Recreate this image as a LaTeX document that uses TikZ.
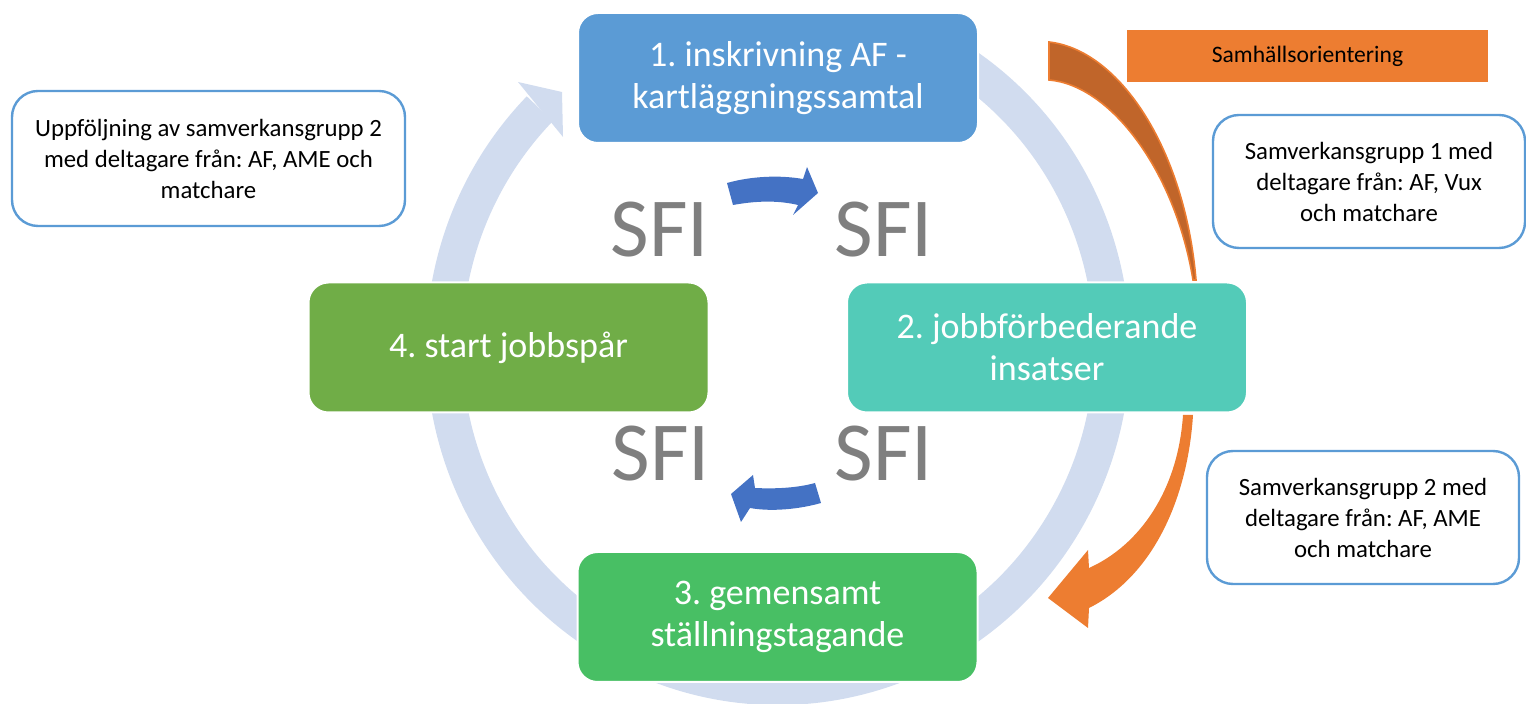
\documentclass[tikz,border=0pt]{standalone}
\usepackage{fontspec}
\setmainfont{Carlito}
\usepackage{xcolor}
\definecolor{ringblue}{HTML}{D1DCEF}
\definecolor{stageone}{HTML}{5B9BD5}
\definecolor{stagetwo}{HTML}{53CBB8}
\definecolor{stagethree}{HTML}{48BF64}
\definecolor{stagefour}{HTML}{70AD47}
\definecolor{noteblue}{HTML}{5B9BD5}
\definecolor{sfigrey}{HTML}{7F7F7F}
\definecolor{turnblue}{HTML}{4472C4}
\definecolor{soorange}{HTML}{ED7D31}
\definecolor{sodark}{HTML}{C0652A}
\frenchspacing

\begin{document}
\begin{tikzpicture}[x=0.5pt, y=-0.5pt,
    stagebox/.style={rounded corners=10pt, draw=white, line width=1pt, minimum width=200pt, minimum height=65pt, text=white, align=center, font=\fontsize{18}{21}\selectfont},
    notebox/.style={rounded corners=13pt, draw=noteblue, line width=1.2pt, fill=white, align=center, font=\fontsize{12.4}{15.5}\selectfont},
    sfi/.style={text=sfigrey, inner sep=0pt, font=\fontsize{42}{50}\selectfont},
    turn/.style={fill=turnblue},
    ring/.style={draw=ringblue, line width=18pt}]
    \useasboundingbox (0,0) rectangle (1526,704);

    \draw[ring] (945,52.6) arc[start angle=-60, end angle=224.5, x radius=334, y radius=340];
    \fill[ringblue] (518,82) -- (562,92) -- (563,137) -- cycle;

    \node[fill=soorange, minimum width=180.5pt, minimum height=26pt, font=\fontsize{11.8}{14}\selectfont] (so) at (1307.5,56) {Samhällsorientering};
    \filldraw[fill=sodark, draw=soorange, line width=0.8pt] (1049,42) .. controls (1120,50) and (1185,150) .. (1196,280) -- (1193,280) .. controls (1175,170) and (1110,85) .. (1049,80) -- cycle;
    \fill[soorange] (1183,415) -- (1193,415) .. controls (1188,495) and (1155,575) .. (1089,608) -- (1088,628) -- (1048,598) -- (1088,550) -- (1089,568) .. controls (1140,545) and (1178,490) .. (1183,415) -- cycle;

    \node[stagebox, fill=stageone] (s1) at (778,78) {1. inskrivning AF -\\kartläggningssamtal};
    \node[stagebox, fill=stagetwo] (s2) at (1047,347.5) {2. jobbförbederande\\insatser};
    \node[stagebox, fill=stagethree] (s3) at (777.5,617) {3. gemensamt\\ställningstagande};
    \node[stagebox, fill=stagefour] (s4) at (508.5,347.5) {4. start jobbspår};

    \node[notebox, minimum width=196.5pt, minimum height=67.5pt] (g0) at (208.5,158.5) {Uppföljning av samverkansgrupp 2\\med deltagare från: AF, AME och\\matchare};
    \node[notebox, minimum width=156pt, minimum height=66.5pt] (g1) at (1369,181.5) {Samverkansgrupp 1 med\\deltagare från: AF, Vux\\och matchare};
    \node[notebox, minimum width=156pt, minimum height=66.5pt] (g2) at (1363,517.5) {Samverkansgrupp 2 med\\deltagare från: AF, AME\\och matchare};

    \node[sfi] (sfiul) at (660,230) {SFI};
    \node[sfi] (sfiur) at (884,230) {SFI};
    \node[sfi] (sfill) at (661,454) {SFI};
    \node[sfi] (sfilr) at (884,454) {SFI};

    \fill[turn] (727,183) .. controls (752,176) and (780,175) .. (803,179) -- (807,167) -- (818,193) -- (793,215) -- (798,205) .. controls (777,200) and (755,201) .. (733,205) -- cycle;
    \fill[turn] (815,483) .. controls (797,488) and (775,489) .. (755,488) -- (753,475) -- (731,494) -- (741,522) -- (750,508) .. controls (772,512) and (800,509) .. (821,503) -- cycle;
\end{tikzpicture}
\end{document}
